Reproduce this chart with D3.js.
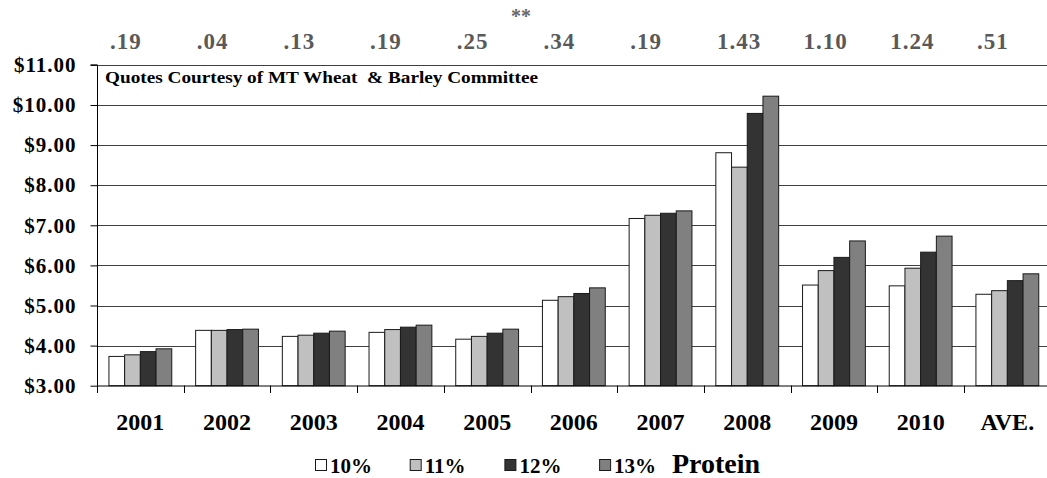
<!DOCTYPE html>
<html>
<head>
<meta charset="utf-8">
<script src="https://cdn.jsdelivr.net/npm/d3@7/dist/d3.min.js"></script>
<style>
  body { margin: 0; background: #fff; }
  text { font-family: "Liberation Serif", "Times New Roman", serif; font-weight: bold; }
</style>
</head>
<body>
<svg width="1047" height="478"></svg>
<script>
// categories and series
var years = ["2001", "2002", "2003", "2004", "2005", "2006", "2007", "2008", "2009", "2010", "AVE."];
var proteins = ["10%", "11%", "12%", "13%"];
var p10 = [3.73, 4.38, 4.23, 4.33, 4.16, 5.13, 7.17, 8.81, 5.51, 5.49, 5.28];
var p11 = [3.77, 4.38, 4.26, 4.40, 4.23, 5.22, 7.25, 8.45, 5.87, 5.93, 5.37];
var p12 = [3.85, 4.40, 4.31, 4.46, 4.31, 5.30, 7.30, 9.79, 6.20, 6.33, 5.62];
var p13 = [3.92, 4.41, 4.36, 4.51, 4.41, 5.44, 7.36, 10.22, 6.61, 6.73, 5.79];
// spread labels above each year
var spreads = [".19", ".04", ".13", ".19", ".25", ".34", ".19", "1.43", "1.10", "1.24", ".51"];
var yTicks = [3, 4, 5, 6, 7, 8, 9, 10, 11];

var colors = ["#ffffff", "#c0c0c0", "#333333", "#808080"];
var series = [p10, p11, p12, p13];

var svg = d3.select("svg");

var x0 = d3.scaleBand()
    .domain(years)
    .range([97, 1050.7])
    .paddingInner(0)
    .paddingOuter(0);

var x1 = d3.scaleBand()
    .domain(proteins)
    .range([0, x0.bandwidth()])
    .paddingInner(0)
    .paddingOuter(0.76);

var y = d3.scaleLinear()
    .domain([3, 11])
    .range([385.7, 64.9]);

var color = d3.scaleOrdinal().domain(proteins).range(colors);

// gridlines
svg.append("g")
  .selectAll("line")
  .data(yTicks.slice(1))
  .enter()
  .append("line")
    .attr("x1", 97)
    .attr("x2", 1050)
    .attr("y1", function(d){ return Math.round(y(d)) + 0.5 })
    .attr("y2", function(d){ return Math.round(y(d)) + 0.5 })
    .attr("stroke", "#404040")
    .attr("stroke-width", 1);

// bars
var rows = [];
years.forEach(function(yr, i){
  proteins.forEach(function(p, j){
    rows.push({year: yr, protein: p, value: series[j][i]});
  });
});

svg.append("g")
  .selectAll("rect")
  .data(rows)
  .enter()
  .append("rect")
    .attr("x", function(d){ return x0(d.year) + x1(d.protein) })
    .attr("y", function(d){ return y(d.value) })
    .attr("width", x1.bandwidth())
    .attr("height", function(d){ return y(3) - y(d.value) })
    .attr("fill", function(d){ return color(d.protein) })
    .attr("stroke", "#1a1a1a")
    .attr("stroke-width", 1);

// y axis
var yAxis = d3.axisLeft(y)
    .tickValues(yTicks)
    .tickSize(7)
    .tickPadding(14)
    .tickFormat(function(d){ return "$" + d.toFixed(2) });

var gy = svg.append("g")
    .attr("transform", "translate(97.5,0)")
    .call(yAxis);
gy.select(".domain").attr("stroke", "#000").attr("d", "M-7,64.9H0V393");
gy.selectAll(".tick line").attr("stroke", "#000");
gy.selectAll("text")
    .attr("fill", "#000")
    .style("font-size", "21px")
    .style("letter-spacing", "1px")
    .style("font-family", "'Liberation Serif', serif")
    .style("font-weight", "bold");

// x axis
var xAxis = d3.axisBottom(x0)
    .tickSize(0)
    .tickPadding(0)
    .tickFormat("");
var gx = svg.append("g")
    .attr("transform", "translate(0,385.5)")
    .call(xAxis);
gx.select(".domain").attr("stroke", "#000");

svg.append("g")
  .selectAll("line")
  .data(years)
  .enter()
  .append("line")
    .attr("x1", function(d){ return Math.round(x0(d)) + 0.5 })
    .attr("x2", function(d){ return Math.round(x0(d)) + 0.5 })
    .attr("y1", 385.5)
    .attr("y2", 393)
    .attr("stroke", "#000");

svg.append("g")
  .selectAll("text")
  .data(years)
  .enter()
  .append("text")
    .attr("x", function(d){ return x0(d) + x0.bandwidth() / 2 })
    .attr("y", 430)
    .attr("text-anchor", "middle")
    .style("font-size", "24px")
    .attr("fill", "#000")
    .text(function(d){ return d });

// spread labels on top
svg.append("g")
  .selectAll("text")
  .data(spreads)
  .enter()
  .append("text")
    .attr("x", function(d, i){ return x0(years[i]) + 13 })
    .attr("y", 49)
    .style("font-size", "23px")
    .style("letter-spacing", "1px")
    .attr("fill", "#595959")
    .text(function(d){ return d });

svg.append("text")
    .attr("x", 521)
    .attr("y", 23)
    .attr("text-anchor", "middle")
    .style("font-size", "20px")
    .attr("fill", "#666")
    .text("**");

svg.append("text")
    .attr("x", 105)
    .attr("y", 83)
    .attr("textLength", 433)
    .attr("lengthAdjust", "spacingAndGlyphs")
    .style("font-size", "16px")
    .attr("fill", "#000")
    .style("white-space", "pre")
    .text("Quotes Courtesy of MT Wheat  & Barley Committee");

// legend
var legend = svg.append("g");
var lg = legend.selectAll("g")
  .data(proteins)
  .enter()
  .append("g")
    .attr("transform", function(d, i){ return "translate(" + (315 + i * 94.7) + ",0)" });

lg.append("rect")
    .attr("x", 0.5)
    .attr("y", 459.5)
    .attr("width", 11)
    .attr("height", 11)
    .attr("fill", function(d){ return color(d) })
    .attr("stroke", "#1a1a1a");

lg.append("text")
    .attr("x", 15)
    .attr("y", 473)
    .style("font-size", "21px")
    .attr("fill", "#000")
    .text(function(d){ return d });

legend.append("text")
    .attr("x", 672)
    .attr("y", 473)
    .style("font-size", "28px")
    .attr("fill", "#000")
    .text("Protein");
</script>
</body>
</html>
